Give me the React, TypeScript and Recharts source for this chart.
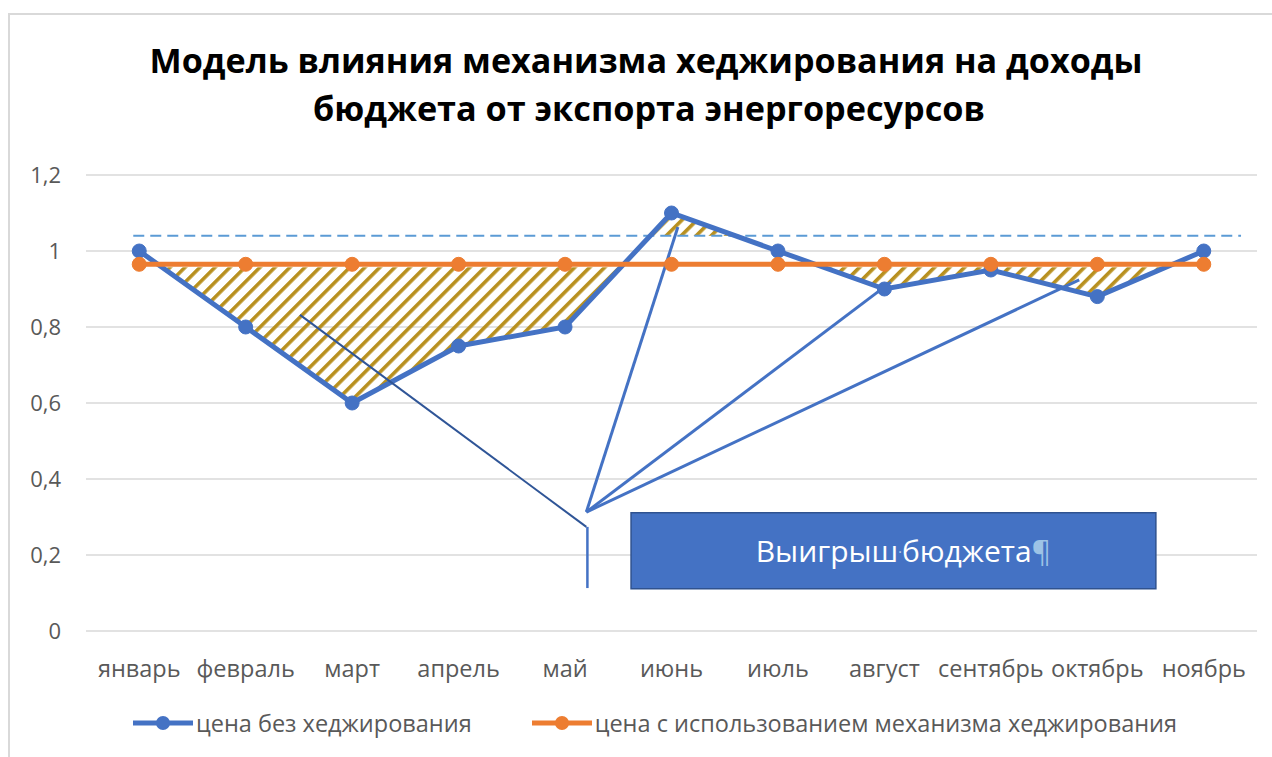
import React from 'react';
import {
  ComposedChart,
  Line,
  Area,
  XAxis,
  YAxis,
  CartesianGrid,
  ReferenceLine,
  ReferenceArea,
  Label,
} from 'recharts';

const months = [
  'январь',
  'февраль',
  'март',
  'апрель',
  'май',
  'июнь',
  'июль',
  'август',
  'сентябрь',
  'октябрь',
  'ноябрь',
];
const noHedge = [1, 0.8, 0.6, 0.75, 0.8, 1.1, 1.0, 0.9, 0.95, 0.88, 1.0];
const hedged = [0.965, 0.965, 0.965, 0.965, 0.965, 0.965, 0.965, 0.965, 0.965, 0.965, 0.965];
const threshold = 1.04;
const yTicks = [0, 0.2, 0.4, 0.6, 0.8, 1, 1.2];

// callout annotation (data coordinates: x = month index, y = value)
const calloutHub = { x: 4.2, y: 0.313 };
const calloutTargets = [
  { x: 5.06, y: 1.063 },
  { x: 7.06, y: 0.918 },
  { x: 8.83, y: 0.924 },
];
const pointer = [
  { x: 1.51, y: 0.832 },
  { x: 4.2, y: 0.274 },
];
const stem = [
  { x: 4.21, y: 0.274 },
  { x: 4.21, y: 0.113 },
];
const box = { x1: 4.62, x2: 9.55, y1: 0.111, y2: 0.311 };

const W = 1272;
const H = 757;
const TOP = 175;
const BOTTOM = 631;
const Y_MAX = 1.2;
const toPx = (v: number) => BOTTOM - (v / Y_MAX) * (BOTTOM - TOP);

const BLUE = '#4472C4';
const ORANGE = '#ED7D31';
const FONT = '"Open Sans", sans-serif';

const data = months.map((m, i) => ({
  x: i,
  month: m,
  noHedge: noHedge[i],
  hedged: hedged[i],
}));

const renderBoxLabel = (props: any) => {
  const vb = props.viewBox || {};
  const cx = vb.x + vb.width / 2;
  const cy = vb.y + vb.height / 2;
  return (
    <text
      x={cx + 10}
      y={cy + 11}
      textAnchor="middle"
      fontFamily={FONT}
      fontSize={30}
      fill="#fff"
    >
      Выигрыш<tspan fill="#BDD7EE" fontSize={14} dy={-5}>·</tspan>
      <tspan dy={5}>бюджета</tspan>
      <tspan fill="#9DC3E6">¶</tspan>
    </text>
  );
};

const LegendItem = ({ color, text }: { color: string; text: string }) => (
  <div style={{ display: 'flex', alignItems: 'center' }}>
    <svg width={60} height={16}>
      <line x1={0} y1={8} x2={60} y2={8} stroke={color} strokeWidth={5} />
      <circle cx={30} cy={8} r={7} fill={color} />
    </svg>
    <span style={{ marginLeft: 3 }}>{text}</span>
  </div>
);

export default function App() {
  const orangeY = toPx(hedged[0]);
  const dashY = toPx(threshold);

  return (
    <div
      style={{
        position: 'absolute',
        left: 0,
        top: 0,
        width: W,
        height: H,
        background: '#fff',
        overflow: 'hidden',
        fontFamily: FONT,
      }}
    >
      <svg width={0} height={0} style={{ position: 'absolute' }}>
        <defs>
          <pattern
            id="stripes"
            patternUnits="userSpaceOnUse"
            width={10.6}
            height={10.6}
            patternTransform="rotate(45)"
          >
            <rect x={0} y={0} width={3.6} height={10.6} fill="#B8901F" />
          </pattern>
          <pattern id="hatchClip" patternUnits="userSpaceOnUse" x={0} y={0} width={W} height={H}>
            <rect x={0} y={orangeY + 3} width={W} height={BOTTOM - orangeY} fill="url(#stripes)" />
            <rect x={0} y={TOP} width={W} height={dashY - TOP} fill="url(#stripes)" />
          </pattern>
        </defs>
      </svg>

      <div
        style={{
          position: 'absolute',
          left: 8,
          top: 13,
          width: W,
          height: H,
          borderLeft: '2px solid #D9D9D9',
          borderTop: '2px solid #D9D9D9',
        }}
      />

      <svg width={W} height={130} style={{ position: 'absolute', left: 0, top: 0 }}>
        <text
          x={646}
          y={73}
          textAnchor="middle"
          fontFamily={FONT}
          fontWeight={700}
          fontSize={34}
          textLength={993}
          lengthAdjust="spacingAndGlyphs"
          fill="#000"
        >
          Модель влияния механизма хеджирования на доходы
        </text>
        <text
          x={649}
          y={121}
          textAnchor="middle"
          fontFamily={FONT}
          fontWeight={700}
          fontSize={34}
          textLength={672}
          lengthAdjust="spacingAndGlyphs"
          fill="#000"
        >
          бюджета от экспорта энергоресурсов
        </text>
      </svg>

      <div style={{ position: 'absolute', left: 0, top: 0 }}>
        <ComposedChart
          width={W}
          height={H}
          data={data}
          margin={{ top: TOP, right: 15, left: 0, bottom: H - BOTTOM - 60 }}
          style={{ fontFamily: FONT }}
        >
          <CartesianGrid vertical={false} stroke="#D9D9D9" strokeWidth={1.5} />
          <XAxis
            dataKey="x"
            type="number"
            domain={[-0.5, 10.5]}
            ticks={months.map((_, i) => i)}
            interval={0}
            tickFormatter={(v: number) => months[v] ?? ''}
            axisLine={false}
            tickLine={false}
            tickSize={0}
            tickMargin={29}
            height={60}
            tick={{ fill: '#595959', fontSize: 23.5 }}
          />
          <YAxis
            type="number"
            domain={[0, Y_MAX]}
            ticks={yTicks}
            tickFormatter={(v: number) => String(v).replace('.', ',')}
            axisLine={false}
            tickLine={false}
            tickSize={0}
            tickMargin={25}
            width={86}
            tick={{ fill: '#595959', fontSize: 22 }}
          />
          <Area
            type="linear"
            dataKey={(d: any) => [d.hedged, d.noHedge]}
            stroke="none"
            fill="url(#hatchClip)"
            fillOpacity={1}
            activeDot={false}
            isAnimationActive={false}
          />
          <ReferenceLine
            segment={[
              { x: -0.056, y: threshold },
              { x: 10.35, y: threshold },
            ]}
            stroke="#5B9BD5"
            strokeWidth={2}
            strokeDasharray="11 6"
          />
          <Line
            type="linear"
            dataKey="noHedge"
            stroke={BLUE}
            strokeWidth={5}
            dot={{ r: 7, fill: BLUE, stroke: BLUE, strokeWidth: 1 }}
            activeDot={false}
            isAnimationActive={false}
          />
          <Line
            type="linear"
            dataKey="hedged"
            stroke={ORANGE}
            strokeWidth={5}
            dot={{ r: 7, fill: ORANGE, stroke: ORANGE, strokeWidth: 1 }}
            activeDot={false}
            isAnimationActive={false}
          />
          <ReferenceLine segment={pointer} stroke="#2F5597" strokeWidth={2} />
          <ReferenceLine segment={stem} stroke={BLUE} strokeWidth={2.5} />
          {calloutTargets.map((t, i) => (
            <ReferenceLine
              key={i}
              segment={[calloutHub, t]}
              stroke={BLUE}
              strokeWidth={3}
            />
          ))}
          <ReferenceArea
            x1={box.x1}
            x2={box.x2}
            y1={box.y1}
            y2={box.y2}
            fill={BLUE}
            fillOpacity={1}
            stroke="#2F528F"
            strokeWidth={1.5}
          >
            <Label content={renderBoxLabel} />
          </ReferenceArea>
        </ComposedChart>
      </div>

      <div
        style={{
          position: 'absolute',
          top: 710,
          left: 133,
          display: 'flex',
          gap: 60,
          fontSize: 23.5,
          color: '#595959',
          lineHeight: '26px',
        }}
      >
        <LegendItem color={BLUE} text="цена без хеджирования" />
        <LegendItem color={ORANGE} text="цена с использованием механизма хеджирования" />
      </div>
    </div>
  );
}
